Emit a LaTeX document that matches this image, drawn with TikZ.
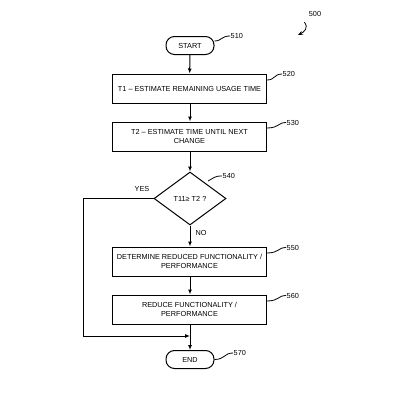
\documentclass[tikz,border=0pt]{standalone}
\usepackage{fontspec}
\setmainfont{Liberation Sans}
\usetikzlibrary{shapes.geometric,arrows.meta}
\begin{document}
\begin{tikzpicture}[x=1pt,y=-1pt,
  every node/.style={font=\fontsize{7.3}{9}\selectfont},
  stepbox/.style={draw,line width=1pt,minimum width=154pt,minimum height=29pt,align=center,inner sep=1pt},
  term/.style={draw,line width=1pt,rounded corners=8.5pt,minimum width=48pt,minimum height=18pt,inner sep=1pt},
  dec/.style={draw,diamond,line width=1pt,minimum width=72pt,minimum height=53pt,inner sep=0pt},
  flow/.style={line width=1pt,-{Latex[length=5pt,width=4pt]}},
  leader/.style={line width=0.8pt},
  lbl/.style={anchor=west,inner sep=0.5pt}]
\useasboundingbox (0,0) rectangle (408,408);

\node[term] (start) at (190,45.5) {START};
\node[stepbox] (t1) at (189.5,88.5) {T1 – ESTIMATE REMAINING USAGE TIME};
\node[stepbox] (t2) at (189.5,136.5) {T2 – ESTIMATE TIME UNTIL NEXT\\CHANGE};
\node[dec] (cmp) at (190,198.5) {T11≥ T2 ?};
\node[stepbox] (det) at (189.5,261.5) {DETERMINE REDUCED FUNCTIONALITY /\\PERFORMANCE};
\node[stepbox] (red) at (189.5,309.5) {REDUCE FUNCTIONALITY /\\PERFORMANCE};
\node[term] (end) at (190,359.5) {END};

\node (yes) at (142,189) {YES};
\node (no) at (201,233) {NO};

\draw[flow] (start) -- (t1);
\draw[flow] (t1.south -| start) -- (t2.north -| start);
\draw[flow] (t2.south -| cmp) -- (cmp.north);
\draw[flow] (cmp.south) -- (det.north -| cmp);
\draw[flow] (det.south -| cmp) -- (red.north -| cmp);
\draw[flow] (red.south -| end) -- (end.north);
\coordinate (join) at (190,336);
\draw[flow] (cmp.west) -- (83,198.5) -- (83,336) -- (join);

% reference labels
\node[lbl] (l510) at (230,36) {510};
\draw[leader] (start.east |- 0,41) .. controls (222,41) and (221,36) .. (l510.west);
\node[lbl] (l520) at (282,74) {520};
\draw[leader] (t1.east |- 0,80) .. controls (275,80) and (274,74) .. (l520.west);
\node[lbl] (l530) at (286,122.5) {530};
\draw[leader] (t2.east |- 0,128) .. controls (279,128) and (278,122.5) .. (l530.west);
\node[lbl] (l540) at (222,176) {540};
\draw[leader] (208,181) .. controls (214,178) and (214,176) .. (l540.west);
\node[lbl] (l550) at (286,247.5) {550};
\draw[leader] (det.east |- 0,253) .. controls (279,253) and (278,247.5) .. (l550.west);
\node[lbl] (l560) at (286,295.5) {560};
\draw[leader] (red.east |- 0,301) .. controls (279,301) and (278,295.5) .. (l560.west);
\node[lbl] (l570) at (233,353) {570};
\draw[leader] (end.east) .. controls (225,359.5) and (224,353) .. (l570.west);

\node (l500) at (315,14) {500};
\draw[line width=0.8pt,-{Stealth[length=5pt,width=4pt]}] (l500.south west) ++(-1,2) .. controls (309,28) and (304,32) .. (298,35);
\end{tikzpicture}
\end{document}
